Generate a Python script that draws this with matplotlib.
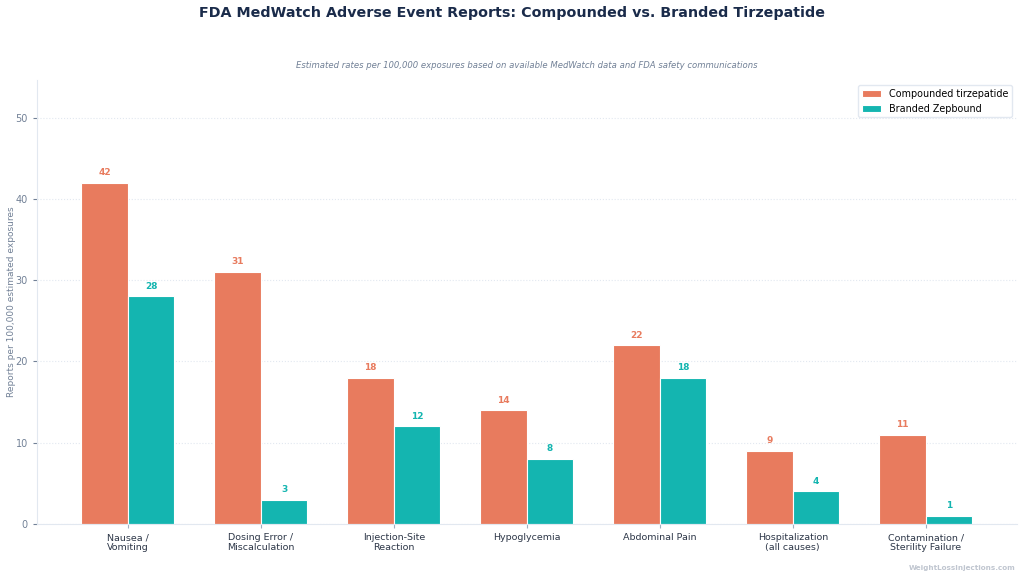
import matplotlib
matplotlib.use("Agg")
import matplotlib.pyplot as plt
import numpy as np

categories = ["Nausea /\nVomiting", "Dosing Error /\nMiscalculation", "Injection-Site\nReaction",
              "Hypoglycemia", "Abdominal Pain", "Hospitalization\n(all causes)",
              "Contamination /\nSterility Failure"]
compounded = [42, 31, 18, 14, 22, 9, 11]
branded = [28, 3, 12, 8, 18, 4, 1]
series_names = ["Compounded tirzepatide", "Branded Zepbound"]

orange = "#E87B5E"
teal = "#14B5B0"


def main():
    fig = plt.figure(figsize=(10.24, 5.78), dpi=100)
    ax = fig.add_axes([0.036, 0.0934, 0.957, 0.768])

    x = np.arange(len(categories))
    w = 0.35
    b1 = ax.bar(x - w / 2, compounded, w, color=orange, edgecolor="white", linewidth=0.8,
                label=series_names[0])
    b2 = ax.bar(x + w / 2, branded, w, color=teal, edgecolor="white", linewidth=0.8,
                label=series_names[1])

    for bars, vals, col in [(b1, compounded, orange), (b2, branded, teal)]:
        for bar, v in zip(bars, vals):
            ax.annotate(str(v), (bar.get_x() + bar.get_width() / 2, v),
                        xytext=(0, 4), textcoords="offset points",
                        ha="center", va="bottom", fontsize=6.5, fontweight="bold", color=col)

    ax.set_ylim(0, max(compounded) * 1.3)
    ax.set_xticks(x)
    ax.set_xticklabels(categories, fontsize=6.8, color="#2d3748")
    ax.set_yticks([0, 10, 20, 30, 40, 50])
    ax.tick_params(axis="y", labelsize=7, colors="#718096", length=3)
    ax.tick_params(axis="x", colors="#a0aec0", labelcolor="#2d3748", length=3)
    ax.set_ylabel("Reports per 100,000 estimated exposures", fontsize=6.5, color="#718096")
    ax.yaxis.set_label_coords(-0.021, 0.5)

    ax.grid(axis="y", linestyle=":", color="#e2e8f0", linewidth=0.8)
    ax.set_axisbelow(True)
    for s in ["top", "right"]:
        ax.spines[s].set_visible(False)
    for s in ["left", "bottom"]:
        ax.spines[s].set_color("#e2e8f0")

    ax.legend(loc="upper right", fontsize=6.9, frameon=True, edgecolor="#e2e8f0", framealpha=1)

    fig.text(0.5, 0.99, "FDA MedWatch Adverse Event Reports: Compounded vs. Branded Tirzepatide",
             ha="center", va="top", fontsize=10.25, fontweight="bold", color="#1a2b4a")
    ax.set_title("Estimated rates per 100,000 exposures based on available MedWatch data and FDA safety communications",
                 fontsize=6.1, style="italic", color="#718096", pad=8.5)
    fig.text(0.992, 0.012, "WeightLossInjections.com", ha="right", va="bottom",
             fontsize=5.2, fontweight="bold", color="#c0c6d0")

    fig.savefig("out.png", dpi=100)


if __name__ == "__main__":
    main()
